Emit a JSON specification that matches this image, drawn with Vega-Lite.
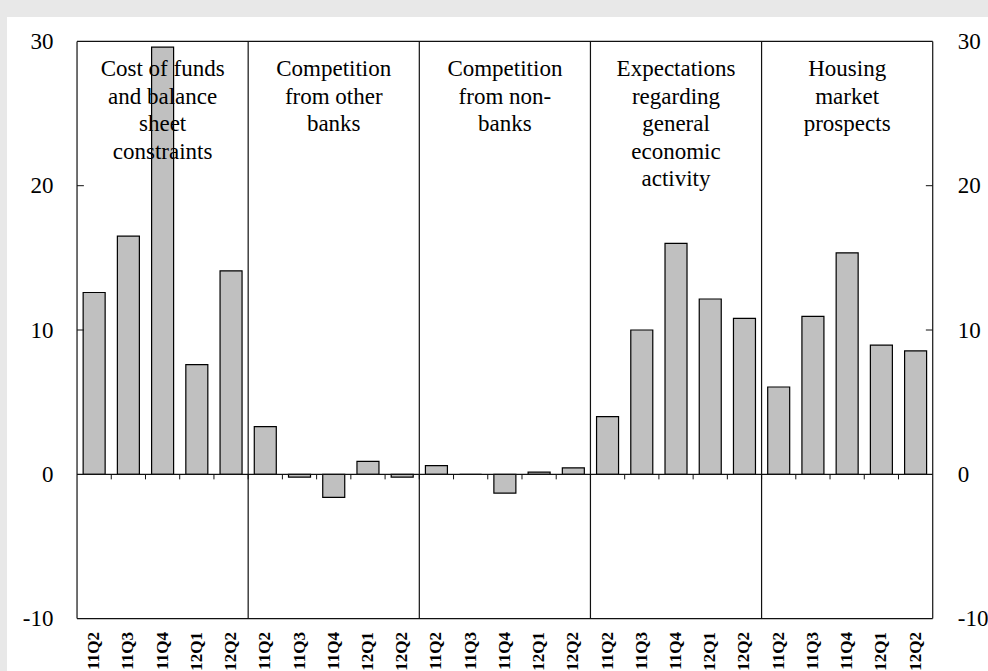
{
  "$schema": "https://vega.github.io/schema/vega-lite/v6.json",
  "width": 981,
  "height": 654,
  "autosize": {"type": "none"},
  "padding": {"left": 7, "top": 17, "right": 0, "bottom": 0},
  "background": "#e8e8e8",
  "config": {
    "view": {"fill": "white", "stroke": null},
    "font": "Liberation Serif"
  },
  "data": {
    "values": [
      {"group": "Cost of funds\nand balance\nsheet\nconstraints", "q": "11Q2", "idx": 0, "value": 12.6},
      {"group": "Cost of funds\nand balance\nsheet\nconstraints", "q": "11Q3", "idx": 1, "value": 16.5},
      {"group": "Cost of funds\nand balance\nsheet\nconstraints", "q": "11Q4", "idx": 2, "value": 29.6},
      {"group": "Cost of funds\nand balance\nsheet\nconstraints", "q": "12Q1", "idx": 3, "value": 7.6},
      {"group": "Cost of funds\nand balance\nsheet\nconstraints", "q": "12Q2", "idx": 4, "value": 14.1},
      {"group": "Competition\nfrom other\nbanks", "q": "11Q2", "idx": 5, "value": 3.3},
      {"group": "Competition\nfrom other\nbanks", "q": "11Q3", "idx": 6, "value": -0.2},
      {"group": "Competition\nfrom other\nbanks", "q": "11Q4", "idx": 7, "value": -1.6},
      {"group": "Competition\nfrom other\nbanks", "q": "12Q1", "idx": 8, "value": 0.9},
      {"group": "Competition\nfrom other\nbanks", "q": "12Q2", "idx": 9, "value": -0.2},
      {"group": "Competition\nfrom non-\nbanks", "q": "11Q2", "idx": 10, "value": 0.6},
      {"group": "Competition\nfrom non-\nbanks", "q": "11Q3", "idx": 11, "value": 0},
      {"group": "Competition\nfrom non-\nbanks", "q": "11Q4", "idx": 12, "value": -1.3},
      {"group": "Competition\nfrom non-\nbanks", "q": "12Q1", "idx": 13, "value": 0.15},
      {"group": "Competition\nfrom non-\nbanks", "q": "12Q2", "idx": 14, "value": 0.45},
      {"group": "Expectations\nregarding\ngeneral\neconomic\nactivity", "q": "11Q2", "idx": 15, "value": 4.0},
      {"group": "Expectations\nregarding\ngeneral\neconomic\nactivity", "q": "11Q3", "idx": 16, "value": 10.0},
      {"group": "Expectations\nregarding\ngeneral\neconomic\nactivity", "q": "11Q4", "idx": 17, "value": 16.0},
      {"group": "Expectations\nregarding\ngeneral\neconomic\nactivity", "q": "12Q1", "idx": 18, "value": 12.15},
      {"group": "Expectations\nregarding\ngeneral\neconomic\nactivity", "q": "12Q2", "idx": 19, "value": 10.8},
      {"group": "Housing\nmarket\nprospects", "q": "11Q2", "idx": 20, "value": 6.05},
      {"group": "Housing\nmarket\nprospects", "q": "11Q3", "idx": 21, "value": 10.95},
      {"group": "Housing\nmarket\nprospects", "q": "11Q4", "idx": 22, "value": 15.35},
      {"group": "Housing\nmarket\nprospects", "q": "12Q1", "idx": 23, "value": 8.95},
      {"group": "Housing\nmarket\nprospects", "q": "12Q2", "idx": 24, "value": 8.55}
    ]
  },
  "resolve": {"axis": {"y": "independent"}},
  "layer": [
    {
      "mark": {"type": "bar", "size": 22, "fill": "#c0c0c0", "stroke": "#000000", "strokeWidth": 1.2},
      "encoding": {
        "x": {"field": "idx", "type": "quantitative", "scale": {"domain": [-2.4, 25.969], "nice": false, "zero": false}, "axis": null},
        "y": {"field": "value", "type": "quantitative", "scale": {"domain": [-13.63, 31.69], "nice": false, "zero": false},
          "axis": {"orient": "left", "offset": -65.7, "values": [-10, 0, 10, 20, 30], "labelExpr": "'' + datum.value", "domain": false, "ticks": false, "grid": false, "title": null, "labelPadding": 19.7, "labelFont": "Liberation Serif", "labelFontSize": 23, "labelColor": "#000000"}},
        "y2": {"datum": 0}
      }
    },
    {
      "data": {"values": [{"h": -10}, {"h": 0}, {"h": 30}]},
      "mark": {"type": "rule", "color": "#111111", "strokeWidth": 1.2},
      "encoding": {
        "x": {"datum": -0.5, "type": "quantitative", "scale": {"domain": [-2.4, 25.969], "nice": false, "zero": false}, "axis": null},
        "x2": {"datum": 24.5},
        "y": {"field": "h", "type": "quantitative", "scale": {"domain": [-13.63, 31.69], "nice": false, "zero": false},
          "axis": {"orient": "right", "offset": -50.7, "values": [-10, 0, 10, 20, 30], "labelExpr": "'' + datum.value", "domain": false, "ticks": false, "grid": false, "title": null, "labelPadding": 20, "labelFont": "Liberation Serif", "labelFontSize": 23, "labelColor": "#000000"}}
      }
    },
    {
      "data": {"values": [{"b": -0.5}, {"b": 4.5}, {"b": 9.5}, {"b": 14.5}, {"b": 19.5}, {"b": 24.5}]},
      "mark": {"type": "rule", "color": "#111111", "strokeWidth": 1.2},
      "encoding": {
        "x": {"field": "b", "type": "quantitative", "scale": {"domain": [-2.4, 25.969], "nice": false, "zero": false}, "axis": null},
        "y": {"datum": -10, "type": "quantitative", "scale": {"domain": [-13.63, 31.69], "nice": false, "zero": false}, "axis": null},
        "y2": {"datum": 30}
      }
    },
    {
      "data": {"values": [{"t": 0.5}, {"t": 1.5}, {"t": 2.5}, {"t": 3.5}, {"t": 4.5}, {"t": 5.5}, {"t": 6.5}, {"t": 7.5}, {"t": 8.5}, {"t": 9.5}, {"t": 10.5}, {"t": 11.5}, {"t": 12.5}, {"t": 13.5}, {"t": 14.5}, {"t": 15.5}, {"t": 16.5}, {"t": 17.5}, {"t": 18.5}, {"t": 19.5}, {"t": 20.5}, {"t": 21.5}, {"t": 22.5}, {"t": 23.5}]},
      "mark": {"type": "rule", "color": "#111111", "strokeWidth": 1},
      "encoding": {
        "x": {"field": "t", "type": "quantitative", "scale": {"domain": [-2.4, 25.969], "nice": false, "zero": false}, "axis": null},
        "y": {"datum": 0, "type": "quantitative", "scale": {"domain": [-13.63, 31.69], "nice": false, "zero": false}, "axis": null},
        "y2": {"datum": -0.35}
      }
    },
    {
      "data": {"values": [{"v": 10}, {"v": 20}]},
      "mark": {"type": "rule", "color": "#111111", "strokeWidth": 1},
      "encoding": {
        "x": {"datum": -0.5, "type": "quantitative", "scale": {"domain": [-2.4, 25.969], "nice": false, "zero": false}, "axis": null},
        "x2": {"datum": -0.3},
        "y": {"field": "v", "type": "quantitative", "scale": {"domain": [-13.63, 31.69], "nice": false, "zero": false}, "axis": null}
      }
    },
    {
      "data": {"values": [{"v": 10}, {"v": 20}]},
      "mark": {"type": "rule", "color": "#111111", "strokeWidth": 1},
      "encoding": {
        "x": {"datum": 24.3, "type": "quantitative", "scale": {"domain": [-2.4, 25.969], "nice": false, "zero": false}, "axis": null},
        "x2": {"datum": 24.5},
        "y": {"field": "v", "type": "quantitative", "scale": {"domain": [-13.63, 31.69], "nice": false, "zero": false}, "axis": null}
      }
    },
    {
      "mark": {"type": "text", "angle": 270, "align": "right", "baseline": "middle", "font": "Liberation Serif", "fontWeight": "bold", "fontSize": 17, "color": "#000000"},
      "encoding": {
        "x": {"field": "idx", "type": "quantitative", "scale": {"domain": [-2.4, 25.969], "nice": false, "zero": false}, "axis": null},
        "y": {"datum": -10.93, "type": "quantitative", "scale": {"domain": [-13.63, 31.69], "nice": false, "zero": false}, "axis": null},
        "text": {"field": "q"}
      }
    },
    {
      "transform": [{"aggregate": [{"op": "mean", "field": "idx", "as": "center"}], "groupby": ["group"]}],
      "mark": {"type": "text", "align": "center", "baseline": "alphabetic", "font": "Liberation Serif", "fontSize": 23, "lineBreak": "\n", "lineHeight": 27.5, "color": "#000000"},
      "encoding": {
        "x": {"field": "center", "type": "quantitative", "scale": {"domain": [-2.4, 25.969], "nice": false, "zero": false}, "axis": null},
        "y": {"datum": 27.6, "type": "quantitative", "scale": {"domain": [-13.63, 31.69], "nice": false, "zero": false}, "axis": null},
        "text": {"field": "group"}
      }
    }
  ]
}
